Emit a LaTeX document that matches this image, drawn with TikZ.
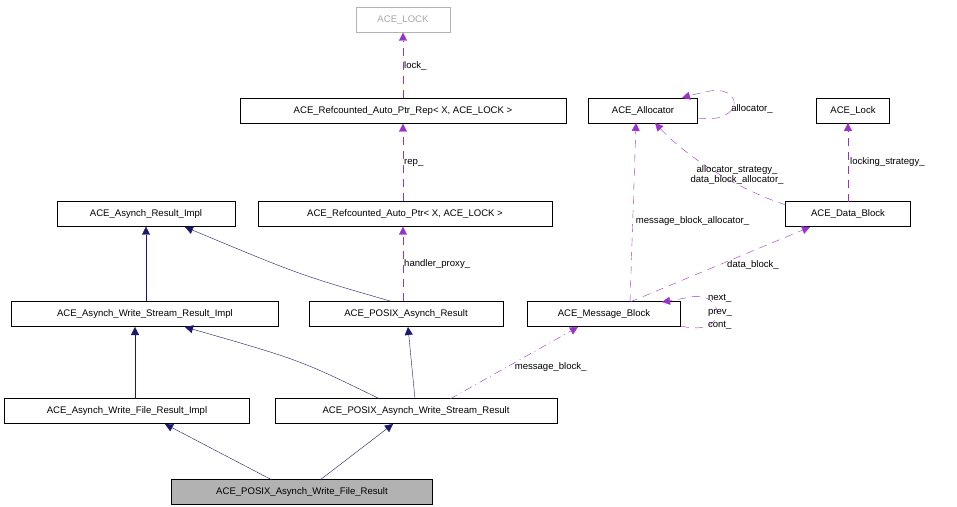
\documentclass[tikz,border=0pt]{standalone}
\usepackage{fontspec}
\setmainfont{Liberation Sans}
\usetikzlibrary{arrows.meta}

\definecolor{inh}{RGB}{25,25,112}
\definecolor{use}{RGB}{153,50,204}
\tikzset{
  cls/.style={draw, rectangle, minimum height=25bp, inner sep=2bp, font=\fontsize{9.6}{11}\selectfont},
  inherit/.style={draw=inh, -{Triangle[length=8bp,width=8bp,fill=inh]}},
  member/.style={draw=use, dash pattern=on 8bp off 6bp, -{Triangle[length=8bp,width=8bp,fill=use]}},
  lbl/.style={font=\fontsize{9.6}{11}\selectfont, inner sep=1bp}
}

\begin{document}
\begin{tikzpicture}[x=1bp, y=-1bp]
  \useasboundingbox (0,0) rectangle (957,507);

  % classes
  \node[cls, draw=gray!60, text=gray!70, minimum width=94bp] (lock) at (403,20) {ACE\_LOCK};
  \node[cls, minimum width=326bp] (rep) at (403,111) {ACE\_Refcounted\_Auto\_Ptr\_Rep< X, ACE\_LOCK >};
  \node[cls, minimum width=109bp] (alloc) at (643,111) {ACE\_Allocator};
  \node[cls, minimum width=73bp] (acelock) at (853,111) {ACE\_Lock};
  \node[cls, minimum width=178bp] (ari) at (146,214) {ACE\_Asynch\_Result\_Impl};
  \node[cls, minimum width=294bp] (aptr) at (405,214) {ACE\_Refcounted\_Auto\_Ptr< X, ACE\_LOCK >};
  \node[cls, minimum width=125bp] (dblock) at (848,214) {ACE\_Data\_Block};
  \node[cls, minimum width=267bp] (wsri) at (145,314) {ACE\_Asynch\_Write\_Stream\_Result\_Impl};
  \node[cls, minimum width=194bp] (par) at (406,314) {ACE\_POSIX\_Asynch\_Result};
  \node[cls, minimum width=153bp] (mblock) at (604,314) {ACE\_Message\_Block};
  \node[cls, minimum width=245bp] (wfri) at (127,411) {ACE\_Asynch\_Write\_File\_Result\_Impl};
  \node[cls, minimum width=282bp] (pwsr) at (416,411) {ACE\_POSIX\_Asynch\_Write\_Stream\_Result};
  \node[cls, fill=gray!60, minimum width=261bp] (pwfr) at (302,492) {ACE\_POSIX\_Asynch\_Write\_File\_Result};

  % inheritance
  \draw[inherit] (wsri.north -| ari.south) -- (ari.south);
  \draw[inherit] (par.north) ++(-15,0) .. controls (300,275) .. (185,227);
  \draw[inherit] (135,399) -- (135,327);
  \draw[inherit] (380,399) .. controls (300,360) .. (185,327);
  \draw[inherit] (415,399) -- (408,327);
  \draw[inherit] (272,480) -- (165,424);
  \draw[inherit] (320,480) -- (393,424);

  % members
  \draw[member] (rep.north) -- node[lbl, right, pos=.5] {lock\_} (lock.south);
  \draw[member] (aptr.north -| rep.south) -- node[lbl, right] {rep\_} (rep.south);
  \draw[member] (par.north -| rep.south) -- node[lbl, right] {handler\_proxy\_} (aptr.south -| rep.south);
  \draw[member, dash pattern=on 8bp off 4bp on 1bp off 4bp] (450,399) -- node[lbl, pos=.45, right=6bp] {message\_block\_} (578,327);
  \draw[member] (630,302) -- node[lbl, pos=.5, right=6bp] {data\_block\_} (810,227);
  \draw[member] (630,302) -- node[lbl, pos=.45, right=2bp] {message\_block\_allocator\_} (636,123);
  \draw[member] (786,205) .. controls (740,190) and (690,160) .. node[lbl, pos=.35, align=center, above=-2bp] {allocator\_strategy\_\\data\_block\_allocator\_} (655,123);
  \draw[member] (848,202) -- node[lbl, right=1bp, pos=.5] {locking\_strategy\_} (848,123);
  \draw[member] (698,118) .. controls (745,125) and (745,82) .. (705,92) .. controls (692,95) .. (682,98);
  \node[lbl] (alab) at (752,109) {allocator\_};
  \draw[member] (681,326) .. controls (730,338) and (725,290) .. (690,297) .. controls (675,300) .. (662,302);
  \node[lbl, align=left, font=\fontsize{9.6}{13.5}\selectfont] (mlab) at (720,312) {next\_\\prev\_\\cont\_};
\end{tikzpicture}
\end{document}
